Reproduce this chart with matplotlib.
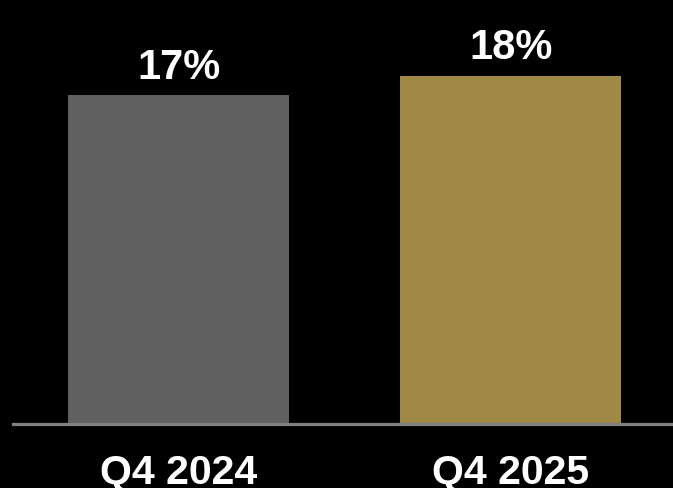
import numpy as np
import matplotlib.pyplot as plt

categories = ["Q4 2024", "Q4 2025"]
values = [17, 18]
value_labels = ["17%", "18%"]
bar_colors = ["#606060", "#A08846"]

W, H = 673, 488
fig = plt.figure(figsize=(W / 100, H / 100), dpi=100, facecolor="black")
ax = fig.add_axes([13 / W, (H - 424) / H, (W - 13) / W, 424 / H])
ax.set_facecolor("black")

x = np.arange(len(categories))
bars = ax.bar(x, values, width=0.666, color=bar_colors, zorder=2)

ax.set_xlim(-0.4985, 1.489)
ax.set_ylim(0, 424 / 19.34)

for b, lab in zip(bars, value_labels):
    ax.annotate(lab, (b.get_x() + b.get_width() / 2, b.get_height()),
                xytext=(0, 5.5), textcoords="offset points",
                ha="center", va="bottom", color="white",
                fontsize=30, fontweight="bold", family="Liberation Sans")

for s in ["top", "right", "left"]:
    ax.spines[s].set_visible(False)
ax.spines["bottom"].set_color("#808080")
ax.spines["bottom"].set_linewidth(2.3)
ax.spines["bottom"].set_zorder(3)

ax.set_yticks([])
ax.set_xticks(x)
ax.set_xticklabels(categories, color="white", fontsize=29.5,
                   fontweight="bold", family="Liberation Sans")
ax.tick_params(axis="x", length=0, pad=21.5)

fig.savefig("out.png", dpi=100, facecolor="black")
